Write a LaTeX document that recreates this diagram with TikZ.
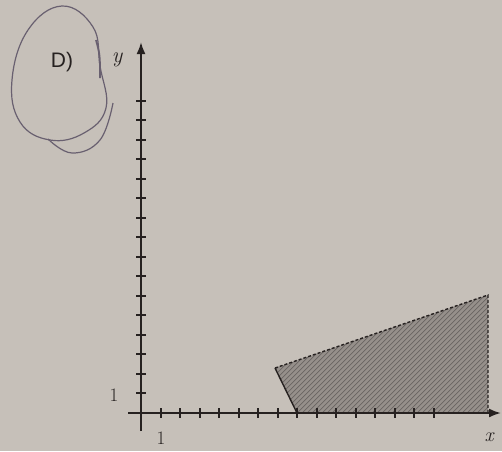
\documentclass[tikz,border=0pt]{standalone}
\usepackage{fontspec}
\setsansfont{Liberation Sans}
\usetikzlibrary{arrows.meta,calc}
\definecolor{paper}{RGB}{198,192,185}
\definecolor{ink}{RGB}{38,33,32}
\definecolor{regionfill}{RGB}{150,144,139}
\definecolor{hatchcol}{RGB}{105,100,98}
\definecolor{pen}{RGB}{105,96,112}
\tikzset{
  axisline/.style={ink,line width=2pt,-{Latex[length=12pt,width=9pt]}},
  tickmark/.style={ink,line width=1.5pt},
  bound/.style={ink,line width=1.4pt},
  dashbound/.style={ink,line width=1.4pt,dash pattern=on 3pt off 2pt},
  hatchline/.style={hatchcol,line width=0.7pt},
  lbl/.style={ink,inner sep=0pt},
  loop/.style={pen,line width=1.2pt}
}
\begin{document}
\begin{tikzpicture}[x=1pt,y=-1pt]
\fill[paper] (0,0) rectangle (502,451);
\useasboundingbox (0,0) rectangle (502,451);
% hand-drawn loop
\draw[loop] plot[smooth cycle,tension=0.7] coordinates {(62,6) (28,30) (12,80) (20,122) (50,140) (84,133) (106,108) (100,66) (93,27)};
\draw[loop] plot[smooth,tension=0.7] coordinates {(113,103) (100,140) (72,153) (48,139)};
\draw[pen,line width=1.8pt] (96,40) .. controls (100,55) .. (100,78);
\node[lbl,font=\sffamily\fontsize{21}{21}\selectfont] (D) at (62,62) {D)};
% region
\coordinate (A) at (297,413);
\coordinate (B) at (275,368);
\coordinate (C) at (488,295);
\coordinate (Dd) at (488,413);
\fill[regionfill] (A) -- (B) -- (C) -- (Dd) -- cycle;
\begin{scope}
\clip (A) -- (B) -- (C) -- (Dd) -- cycle;
\foreach \k in {60,65,...,500} \draw[hatchline] (\k,420) -- ++(130,-130);
\end{scope}
\draw[bound] (A) -- (B);
\draw[dashbound] (B) -- (C) -- (Dd) -- (A);
% axes
\coordinate (O) at (141,413);
\coordinate (xs) at (128,413);
\coordinate (xe) at (501,413);
\coordinate (ys) at (141,431);
\coordinate (ye) at (141,42);
\draw[axisline] (xs) -- (xe);
\draw[axisline] (ys) -- (ye);
\foreach \i in {1,...,15} \draw[tickmark] ($(O)+({round(\i*19.5)},-5)$) -- ++(0,10);
\foreach \i in {1,...,16} \draw[tickmark] ($(O)+(-5,{-round(\i*19.5)})$) -- ++(10,0);
\node[lbl,font=\fontsize{22}{22}\selectfont\itshape] (ylab) at (117,60) {y};
\node[lbl,font=\fontsize{20}{20}\selectfont\itshape] (xlab) at (489,437) {x};
\node[lbl,font=\fontsize{19}{19}\selectfont] (one1) at (114,395) {1};
\node[lbl,font=\fontsize{19}{19}\selectfont] (one2) at (161,438) {1};
\end{tikzpicture}
\end{document}
